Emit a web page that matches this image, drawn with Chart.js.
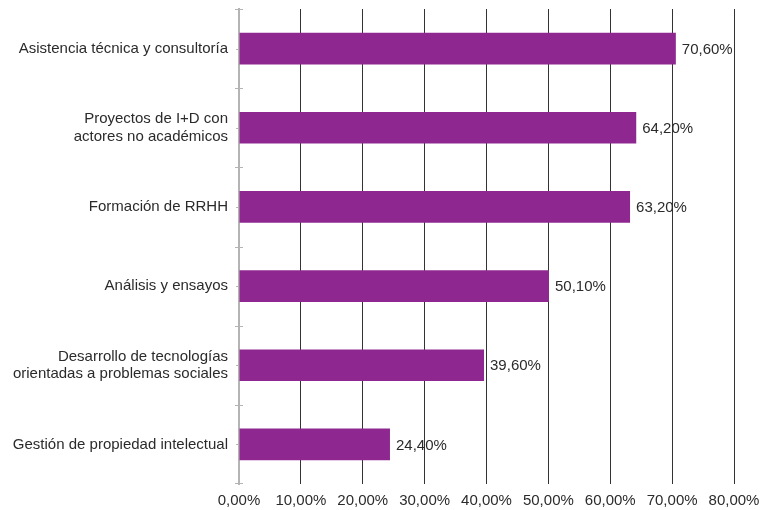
<!DOCTYPE html>
<html>
<head>
<meta charset="utf-8">
<script src="https://cdn.jsdelivr.net/npm/chart.js@4.4.0/dist/chart.umd.min.js"></script>
<style>
  html, body { margin: 0; padding: 0; background: #fff; }
  #wrap { width: 777px; height: 510px; position: relative; }
</style>
</head>
<body>
<div id="wrap"><canvas id="chart"></canvas></div>
<script>
const categories = [
    'Asistencia técnica y consultoría',
    ['Proyectos de I+D con', 'actores no académicos'],
    'Formación de RRHH',
    'Análisis y ensayos',
    ['Desarrollo de tecnologías', 'orientadas a problemas sociales'],
    'Gestión de propiedad intelectual'
];
const values = [70.6, 64.2, 63.2, 50.1, 39.6, 24.4];
const xTicks = [0, 10, 20, 30, 40, 50, 60, 70, 80];

const fmt = v => v.toFixed(2).replace('.', ',') + '%';
const FONT = "'Liberation Sans', Arial, sans-serif";
const AXIS_GRAY = '#b4b4b4';

// value labels to the right of each bar
const valueLabels = {
    id: 'valueLabels',
    afterDatasetsDraw(chart) {
        const ctx = chart.ctx;
        const meta = chart.getDatasetMeta(0);
        ctx.save();
        ctx.font = '15px ' + FONT;
        ctx.fillStyle = '#2b2b2b';
        ctx.textAlign = 'left';
        ctx.textBaseline = 'middle';
        meta.data.forEach((bar, i) => {
            ctx.fillText(fmt(values[i]), bar.x + 6, bar.y + 1);
        });
        ctx.restore();
    }
};

// small tick marks on the category axis: crossing ticks at boundaries, short ones at centres
const catTicks = {
    id: 'catTicks',
    afterDraw(chart) {
        const ctx = chart.ctx;
        const y = chart.scales.y;
        const x0 = chart.scales.x.getPixelForValue(0);
        const half = (y.getPixelForValue(1) - y.getPixelForValue(0)) / 2;
        ctx.save();
        ctx.strokeStyle = AXIS_GRAY;
        ctx.lineWidth = 1;
        ctx.beginPath();
        for (let i = 0; i < categories.length; i++) {
            const c = y.getPixelForValue(i);
            ctx.moveTo(x0 - 3, Math.round(c) + 0.5);
            ctx.lineTo(x0, Math.round(c) + 0.5);
            const b = Math.round(c - half) + 0.5;
            ctx.moveTo(x0 - 4, b);
            ctx.lineTo(x0 + 4, b);
        }
        const last = Math.round(y.getPixelForValue(categories.length - 1) + half) - 0.5;
        ctx.moveTo(x0 - 4, last);
        ctx.lineTo(x0 + 4, last);
        ctx.stroke();
        ctx.restore();
    }
};

new Chart(document.getElementById('chart'), {
    type: 'bar',
    data: {
        labels: categories,
        datasets: [{
            data: values,
            backgroundColor: '#8e2890',
            barPercentage: 0.8,
            categoryPercentage: 0.5
        }]
    },
    options: {
        indexAxis: 'y',
        responsive: true,
        maintainAspectRatio: false,
        animation: false,
        layout: { padding: { top: 9, right: 43, left: 0, bottom: 0 } },
        plugins: {
            legend: { display: false },
            tooltip: { enabled: false }
        },
        scales: {
            x: {
                min: 0,
                max: 80,
                afterBuildTicks: scale => { scale.ticks = xTicks.map(v => ({ value: v })); },
                afterFit: scale => { scale.height = 26; },
                border: { display: false },
                grid: {
                    color: ctx => ctx.index === 0 ? 'rgba(0,0,0,0)' : '#333',
                    lineWidth: 1,
                    drawTicks: false
                },
                ticks: {
                    callback: v => fmt(v),
                    font: { family: FONT, size: 15 },
                    color: '#2b2b2b',
                    padding: 8
                }
            },
            y: {
                afterFit: scale => {
                    scale.width = 239;
                    scale.paddingTop = 0;
                    scale.paddingBottom = 0;
                },
                border: { display: true, color: AXIS_GRAY, width: 2 },
                grid: { display: false },
                ticks: {
                    font: { family: FONT, size: 15, lineHeight: 1.15 },
                    color: '#2b2b2b',
                    padding: 3
                }
            }
        }
    },
    plugins: [valueLabels, catTicks]
});
</script>
</body>
</html>
